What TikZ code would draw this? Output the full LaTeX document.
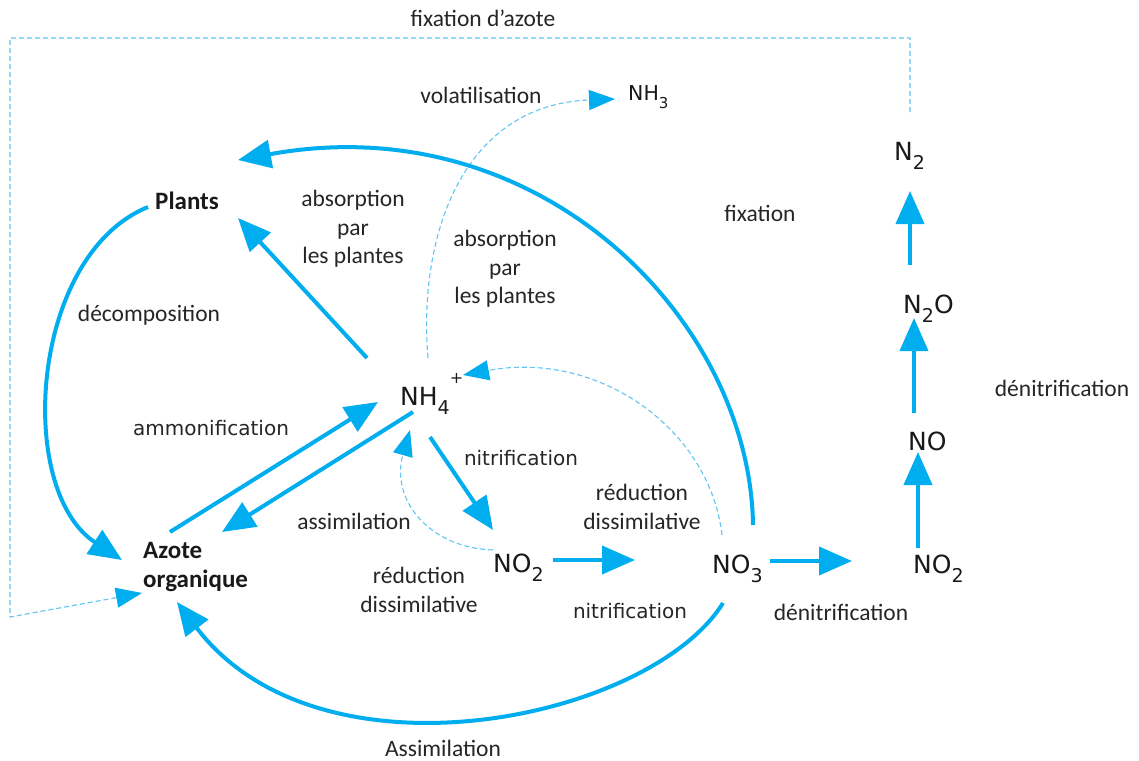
\documentclass[tikz,border=0pt]{standalone}
\usepackage{fontspec}
\setmainfont{Carlito}
\newfontfamily\dvfont{DejaVu Sans}
\usetikzlibrary{arrows.meta,calc}
\definecolor{cyanA}{HTML}{00AEEF}
\definecolor{cyanL}{HTML}{62C6F2}
\newcommand\dn[1]{\raisebox{-9pt}{\fontsize{19}{19}\selectfont #1}}
\begin{document}
\begin{tikzpicture}[x=1pt,y=-1pt,
  lbl/.style={font=\fontsize{23.5}{28.5}\selectfont, align=center, inner sep=0pt, text=black!85},
  bold/.style={font=\bfseries\fontsize{25}{29}\selectfont, inner sep=0pt, text=black!90},
  dv/.style={font=\dvfont\fontsize{20}{24}\selectfont, inner sep=0pt, text=black!85},
  chem/.style={font=\dvfont\fontsize{25}{29}\selectfont, inner sep=0pt, anchor=base west, text=black!90},
  flow/.style={line width=4pt, draw=cyanA, -{Triangle[length=33pt,width=28pt]}},
  dflow/.style={line width=1.1pt, draw=cyanL, dash pattern=on 5pt off 3pt, -{Triangle[length=26pt,width=20pt,color=cyanA]}},
]
\fill[white] (0,0) rectangle (1139,760);
\useasboundingbox (0,0) rectangle (1139,760);

% chemical species
\node[chem] (nh4) at (400,405) {NH\dn{4}\raisebox{22pt}{\fontsize{16}{16}\selectfont +}};
\node[chem] (no2m) at (493,572) {NO\dn{2}};
\node[chem] (no3) at (712,573) {NO\dn{3}};
\node[chem] (no2r) at (913,573) {NO\dn{2}};
\node[chem] (no) at (908,450) {NO};
\node[chem] (n2o) at (903,313) {N\dn{2}O};
\node[chem] (n2) at (894,160) {N\dn{2}};
\node[chem, font=\dvfont\fontsize{20.5}{24}\selectfont] (nh3) at (628,100) {NH\raisebox{-8pt}{\fontsize{15}{15}\selectfont 3}};
\node[bold, anchor=base west] (plants) at (155,209) {Plants};
\node[bold, anchor=west, align=left] (azote) at (143,567) {Azote\\organique};

% labels
\node[lbl] (lfixaz) at (483,18) {fixation d’azote};
\node[lbl] (lvolat) at (481,95) {volatilisation};
\node[lbl] (lfix) at (760,213) {fixation};
\node[lbl] (labs1) at (353,229) {absorption\\par\\les plantes};
\node[lbl] (labs2) at (505,269) {absorption\\par\\les plantes};
\node[lbl] (ldecomp) at (149,315) {décomposition};
\node[dv] (lammon) at (211,428) {ammonification};
\node[dv] (lnit1) at (521,458) {nitrification};
\node[lbl] (lassim) at (354,521) {assimilation};
\node[lbl] (lred1) at (642,507) {réduction\\dissimilative};
\node[lbl] (lred2) at (419,590) {réduction\\dissimilative};
\node[dv] (lnit2) at (630,611) {nitrification};
\node[lbl] (ldenit1) at (841,612) {dénitrification};
\node[lbl] (ldenit2) at (1062,388) {dénitrification};
\node[lbl] (lassim2) at (443,748) {Assimilation};

% frame coordinates for nitrogen fixation
\coordinate (ftr) at (910,38);
\coordinate (ftl) at (10,38);
\coordinate (fbl) at (10,617);

% dashed connectors
\draw[dflow] ($(n2.base west)+(16,-48)$) -- (ftr) -- (ftl) -- (fbl) -- ($(azote.west)+(-1,26)$);
\draw[dflow] ($(nh4.base west)+(28,-47)$) .. controls (418,240) and (460,105) .. ($(nh3.base west)+(-13,-1)$);
\draw[dflow] ($(no3.base west)+(10,-38)$) .. controls (710,430) and (600,350) .. ($(nh4.base west)+(63,-30)$);
\draw[dflow] ($(no2m.base west)+(0,-22)$) .. controls (430,548) and (390,500) .. ($(nh4.base west)+(10,25)$);

% solid connectors
\draw[flow] ($(nh4.base west)+(30,32)$) -- ($(no2m.base west)+(0,-42)$);
\draw[flow] ($(no2m.base west)+(60,-12)$) -- ($(no3.base west)+(-77,-13)$);
\draw[flow] ($(no3.base west)+(58,-12)$) -- ($(no2r.base west)+(-61,-12)$);
\draw[flow] ($(no2r.base west)+(5,-25)$) -- ($(no.base west)+(10,2)$);
\draw[flow] ($(no.base west)+(6,-37)$) -- ($(n2o.base west)+(11,5)$);
\draw[flow] ($(n2o.base west)+(7,-48)$) -- ($(n2.base west)+(16,31)$);
\draw[flow] ($(azote.west)+(27,-35)$) -- ($(nh4.base west)+(-22,-3)$);
\draw[flow] ($(nh4.base west)+(13,7)$) -- ($(azote.west)+(79,-35)$);
\draw[flow] ($(nh4.base west)+(-33,-47)$) -- ($(plants.base west)+(83,9)$);
\draw[flow] ($(no3.base west)+(41,-48)$) .. controls (750,320) and (540,105) .. ($(plants.base west)+(83,-49)$);
\draw[flow] ($(plants.base west)+(-7,-2)$) .. controls (30,255) and (15,490) .. ($(azote.west)+(-21,-7)$);
\draw[flow] ($(no3.base west)+(11,30)$) .. controls (650,720) and (320,790) .. ($(azote.west)+(34,35)$);
\end{tikzpicture}
\end{document}
